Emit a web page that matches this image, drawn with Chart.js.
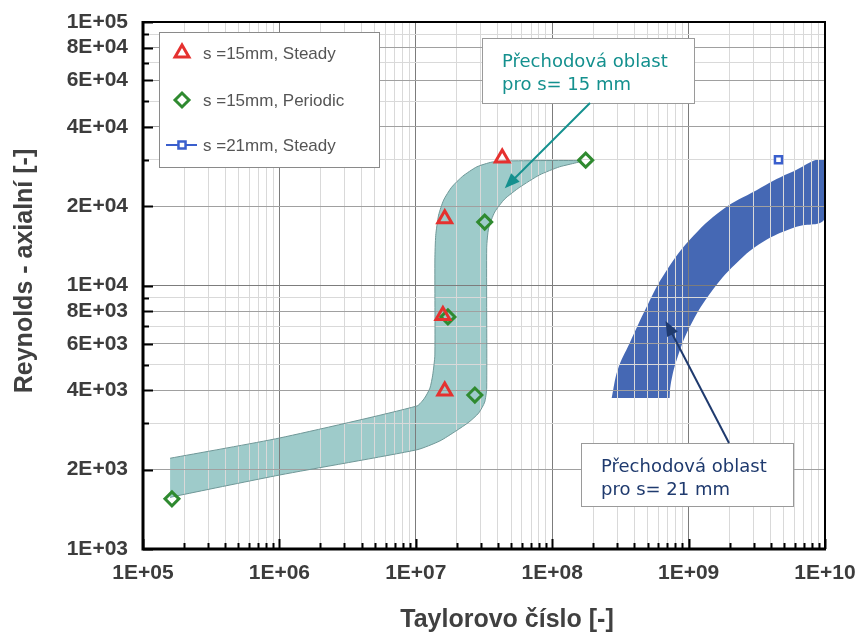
<!DOCTYPE html>
<html>
<head>
<meta charset="utf-8">
<script src="https://cdn.jsdelivr.net/npm/chart.js@4.4.1/dist/chart.umd.min.js"></script>
<style>
  html, body { margin: 0; background: #fff; }
  canvas { display: block; }
</style>
</head>
<body>
<canvas id="chart" width="859" height="635"></canvas>
<script>
// measured points (Taylor number, axial Reynolds)
const seriesNames = ['s =15mm, Steady', 's =15mm, Periodic', 's =21mm, Steady'];
const steadyTa = [4.3e7, 1.63e7, 1.58e7, 1.63e7];
const steadyRe = [3.05e4, 1.79e4, 7.7e3, 3.98e3];
const periodicTa = [1.63e5, 1.72e7, 2.71e7, 3.2e7, 1.76e8];
const periodicRe = [1.55e3, 7.6e3, 3.84e3, 1.74e4, 2.99e4];
const steady21Ta = [4.56e9];
const steady21Re = [3.0e4];

// transition region s = 15 mm, outline walked round from the top-left corner
const band15Ta = [1.58e5, 1.01e6, 1.02e7, 1.16e7, 1.27e7, 1.33e7, 1.38e7, 1.38e7, 1.40e7, 1.47e7,
  1.60e7, 1.83e7, 2.21e7, 2.80e7, 3.61e7, 4.64e7, 1.65e8, 1.13e8, 8.10e7, 5.78e7,
  4.49e7, 3.79e7, 3.42e7, 3.31e7, 3.31e7, 3.20e7, 2.89e7, 2.45e7, 1.96e7, 1.50e7,
  1.02e7, 1.01e6, 1.87e5, 1.58e5];
const band15Re = [2.21e3, 2.64e3, 3.49e3, 3.74e3, 4.08e3, 4.57e3, 5.45e3, 1.25e4, 1.55e4, 1.85e4,
  2.11e4, 2.36e4, 2.60e4, 2.82e4, 2.94e4, 2.97e4, 2.97e4, 2.82e4, 2.63e4, 2.36e4,
  2.13e4, 1.90e4, 1.65e4, 1.39e4, 4.08e3, 3.61e3, 3.28e3, 3.03e3, 2.80e3, 2.57e3,
  2.38e3, 1.91e3, 1.60e3, 1.57e3];

// transition region s = 21 mm
const band21Ta = [2.73e8, 3.02e8, 3.70e8, 4.92e8, 6.45e8, 1.02e9, 1.77e9, 3.15e9, 5.50e9, 1e10,
  1e10, 6.18e9, 3.72e9, 2.37e9, 1.50e9, 1.02e9, 8.17e8, 7.38e8, 7.26e8];
const band21Re = [3.74e3, 4.78e3, 6.05e3, 8.28e3, 1.08e4, 1.49e4, 1.94e4, 2.30e4, 2.67e4, 2.97e4,
  1.80e4, 1.67e4, 1.49e4, 1.25e4, 9.62e3, 6.97e3, 5.21e3, 4.19e3, 3.74e3];

const xLabelValues = [1e5, 1e6, 1e7, 1e8, 1e9, 1e10];
const xTickLabels = ['1E+05', '1E+06', '1E+07', '1E+08', '1E+09', '1E+10'];
const yLabelValues = [1e3, 2e3, 4e3, 6e3, 8e3, 1e4, 2e4, 4e4, 6e4, 8e4, 1e5];
const yTickLabels = ['1E+03', '2E+03', '4E+03', '6E+03', '8E+03', '1E+04', '2E+04', '4E+04', '6E+04', '8E+04', '1E+05'];

const xTitle = 'Taylorovo číslo [-]';
const yTitle = 'Reynolds - axialní [-]';
const note15 = ['Přechodová oblast', 'pro s= 15 mm'];
const note21 = ['Přechodová oblast', 'pro s= 21 mm'];

const RED = '#e5312f', GREEN = '#2f8a30', BLUE = '#3a5fcd';
const TEAL_FILL = '#9ecbca', BLUE_FILL = '#4568b4';

const pts = (xs, ys) => xs.map((v, i) => ({ x: v, y: ys[i] }));

function logTicks(min, max) {
    const out = [];
    for (let e = Math.round(Math.log10(min)); e < Math.round(Math.log10(max)); e++) {
        for (let m = 1; m < 10; m++) out.push(m * Math.pow(10, e));
    }
    out.push(max);
    return out;
}
function isDecade(v) {
    const l = Math.log10(v);
    return Math.abs(l - Math.round(l)) < 1e-6;
}
function findIn(v, list) {
    return list.findIndex(u => Math.abs(u / v - 1) < 1e-6);
}

const decor = {
    id: 'decor',
    afterDraw(chart) {
        const { ctx, chartArea: a, scales: { x, y } } = chart;
        ctx.save();

        // inward tick marks
        ctx.strokeStyle = '#000';
        ctx.lineWidth = 2;
        x.ticks.forEach(t => {
            const px = Math.round(x.getPixelForValue(t.value)) + 0.5;
            const len = isDecade(t.value) ? 10 : 6;
            ctx.beginPath(); ctx.moveTo(px, a.bottom); ctx.lineTo(px, a.bottom - len); ctx.stroke();
        });
        y.ticks.forEach(t => {
            const py = Math.round(y.getPixelForValue(t.value)) + 0.5;
            const len = findIn(t.value, yLabelValues) >= 0 ? 10 : 6;
            ctx.beginPath(); ctx.moveTo(a.left, py); ctx.lineTo(a.left + len, py); ctx.stroke();
        });

        // frame
        ctx.lineWidth = 2;
        ctx.strokeRect(a.left, a.top, a.right - a.left, a.bottom - a.top);
        ctx.lineWidth = 3;
        ctx.beginPath();
        ctx.moveTo(a.left, a.top - 1); ctx.lineTo(a.left, a.bottom); ctx.lineTo(a.right + 1, a.bottom);
        ctx.stroke();

        // axis titles
        ctx.fillStyle = '#404040';
        ctx.font = 'bold 25px "Liberation Sans", Arial, sans-serif';
        ctx.textAlign = 'center';
        ctx.textBaseline = 'middle';
        ctx.fillText(xTitle, 507, 620);
        ctx.save();
        ctx.translate(25, 271);
        ctx.rotate(-Math.PI / 2);
        ctx.fillText(yTitle, 0, 0);
        ctx.restore();

        // legend
        ctx.fillStyle = '#fff';
        ctx.fillRect(159, 32, 220, 135);
        ctx.strokeStyle = '#8a8a8a';
        ctx.lineWidth = 1;
        ctx.strokeRect(159.5, 32.5, 220, 135);
        const rows = [53, 100, 145];
        chart.data.datasets.slice(0, 3).forEach((ds, i) => {
            const cy = rows[i];
            ctx.strokeStyle = ds.borderColor;
            if (i === 2) {
                ctx.lineWidth = 2;
                ctx.beginPath(); ctx.moveTo(166, cy); ctx.lineTo(197, cy); ctx.stroke();
            }
            ctx.fillStyle = ds.backgroundColor;
            ctx.lineWidth = ds.borderWidth;
            Chart.helpers.drawPoint(ctx, { pointStyle: ds.pointStyle, radius: ds.pointRadius, rotation: 0, borderWidth: ds.borderWidth }, 182, cy);
            ctx.fillStyle = '#555';
            ctx.font = '17px "Liberation Sans", Arial, sans-serif';
            ctx.textAlign = 'left';
            ctx.textBaseline = 'middle';
            ctx.fillText(ds.label, 203, cy + 1);
        });

        // notes with arrows
        const note = (lines, box, color, tail, tip) => {
            ctx.fillStyle = '#fff';
            ctx.fillRect(box[0], box[1], box[2], box[3]);
            ctx.strokeStyle = '#9a9a9a';
            ctx.lineWidth = 1;
            ctx.strokeRect(box[0] + 0.5, box[1] + 0.5, box[2], box[3]);
            ctx.fillStyle = color;
            ctx.font = '18px "DejaVu Sans", Verdana, sans-serif';
            ctx.textAlign = 'left';
            ctx.textBaseline = 'alphabetic';
            ctx.fillText(lines[0], box[0] + 20, box[1] + 29);
            ctx.fillText(lines[1], box[0] + 20, box[1] + 52);

            const tx = x.getPixelForValue(tip[0]), ty = y.getPixelForValue(tip[1]);
            const ang = Math.atan2(ty - tail[1], tx - tail[0]);
            const hl = 15, hw = 6;
            ctx.strokeStyle = color;
            ctx.lineWidth = 2;
            ctx.beginPath();
            ctx.moveTo(tail[0], tail[1]);
            ctx.lineTo(tx - Math.cos(ang) * hl * 0.8, ty - Math.sin(ang) * hl * 0.8);
            ctx.stroke();
            ctx.fillStyle = color;
            ctx.beginPath();
            ctx.moveTo(tx, ty);
            ctx.lineTo(tx - Math.cos(ang) * hl - Math.sin(ang) * hw, ty - Math.sin(ang) * hl + Math.cos(ang) * hw);
            ctx.lineTo(tx - Math.cos(ang) * hl + Math.sin(ang) * hw, ty - Math.sin(ang) * hl - Math.cos(ang) * hw);
            ctx.closePath();
            ctx.fill();
        };
        note(note15, [482, 38, 212, 65], '#14908e', [590, 103], [4.49e7, 2.34e4]);
        note(note21, [581, 443, 212, 63], '#1f3a6e', [729, 443], [6.78e8, 7.33e3]);

        ctx.restore();
    }
};

const tickFont = { family: '"Liberation Sans", Arial, sans-serif', size: 21, weight: 'bold' };

new Chart(document.getElementById('chart'), {
    type: 'scatter',
    data: {
        datasets: [
            {
                label: seriesNames[0], data: pts(steadyTa, steadyRe),
                pointStyle: 'triangle', pointRadius: 8, borderWidth: 3,
                borderColor: RED, backgroundColor: 'rgba(0,0,0,0)'
            },
            {
                label: seriesNames[1], data: pts(periodicTa, periodicRe),
                pointStyle: 'rectRot', pointRadius: 7, borderWidth: 3,
                borderColor: GREEN, backgroundColor: 'rgba(0,0,0,0)'
            },
            {
                label: seriesNames[2], data: pts(steady21Ta, steady21Re),
                pointStyle: 'rect', pointRadius: 5, borderWidth: 2.5,
                borderColor: BLUE, backgroundColor: '#fff'
            },
            {
                label: 'band15', data: pts(band15Ta, band15Re), showLine: true,
                fill: 'shape', tension: 0.2, pointRadius: 0, borderWidth: 1,
                borderColor: '#6f9797', backgroundColor: TEAL_FILL
            },
            {
                label: 'band21', data: pts(band21Ta, band21Re), showLine: true,
                fill: 'shape', tension: 0.4, pointRadius: 0, borderWidth: 0,
                borderColor: 'rgba(0,0,0,0)', backgroundColor: BLUE_FILL
            }
        ]
    },
    options: {
        responsive: false,
        animation: false,
        layout: { padding: { top: 22, right: 34, left: 0, bottom: 0 } },
        plugins: {
            legend: { display: false },
            tooltip: { enabled: false },
            filler: { drawTime: 'beforeDraw' }
        },
        scales: {
            x: {
                type: 'logarithmic', min: 1e5, max: 1e10,
                afterBuildTicks: s => { s.ticks = logTicks(1e5, 1e10).map(v => ({ value: v })); },
                afterFit: s => { s.height = 86; s.paddingLeft = 0; s.paddingRight = 0; },
                border: { display: false },
                grid: {
                    drawTicks: false,
                    color: c => isDecade(c.tick.value) ? '#7c7c7c' : '#d9d9d9'
                },
                ticks: {
                    autoSkip: false, maxRotation: 0, padding: 12,
                    color: '#3c3c3c', font: tickFont,
                    callback: v => { const i = findIn(v, xLabelValues); return i >= 0 ? xTickLabels[i] : ''; }
                }
            },
            y: {
                type: 'logarithmic', min: 1e3, max: 1e5,
                afterBuildTicks: s => { s.ticks = logTicks(1e3, 1e5).map(v => ({ value: v })); },
                afterFit: s => { s.width = 143; s.paddingTop = 0; s.paddingBottom = 0; },
                border: { display: false },
                grid: {
                    drawTicks: false,
                    color: c => isDecade(c.tick.value) ? '#7c7c7c' : (findIn(c.tick.value, yLabelValues) >= 0 ? '#a0a0a0' : '#d9d9d9')
                },
                ticks: {
                    autoSkip: false, padding: 15,
                    color: '#3c3c3c', font: tickFont,
                    callback: v => { const i = findIn(v, yLabelValues); return i >= 0 ? yTickLabels[i] : ''; }
                }
            }
        }
    },
    plugins: [decor]
});
</script>
</body>
</html>
